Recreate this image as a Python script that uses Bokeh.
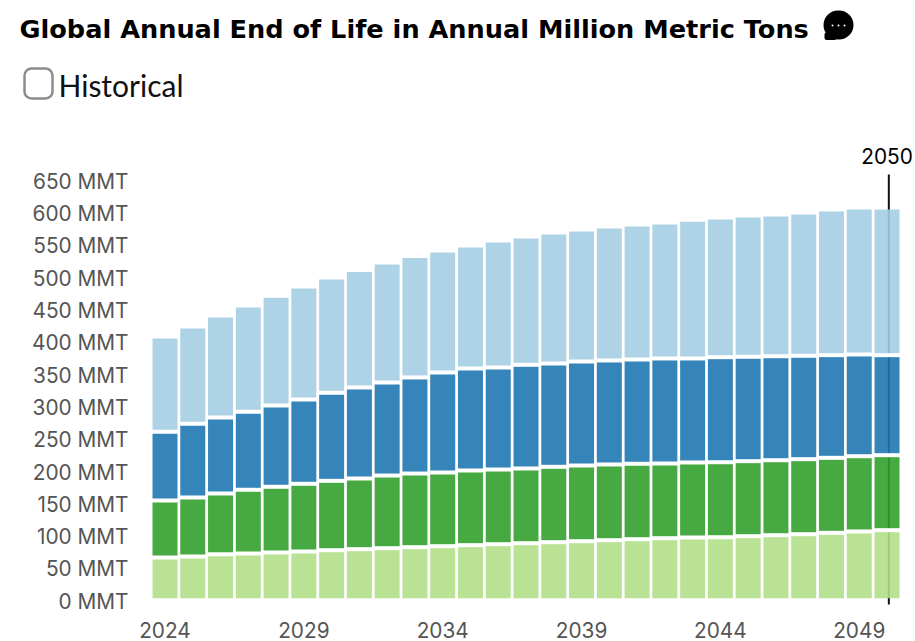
from bokeh.plotting import figure
from bokeh.embed import file_html
from bokeh.resources import INLINE
from bokeh.models import (Range1d, FixedTicker, Label, BoxAnnotation)

years = list(range(2024, 2051))
light_green = [63,64.6,68.1,69.2,70.8,72.3,74.3,75.9,77.4,79,80.5,82.1,83.6,85.1,86.7,88.2,89.8,91.3,92.9,94,94.4,96,97.5,99.1,101.2,103.3,105.3]
green = [88.2,91.3,94,98.6,101.7,104.8,107.4,109.4,112.5,114,114.1,115.6,115.6,115.7,116.7,117.2,117.2,116.8,115.6,116.1,116.1,116.1,116.1,116.1,116.1,116.5,116.1]
blue = [106.4,114.1,117.6,120.8,125.8,130.5,136.3,140.9,144,148.7,154.8,157.9,157.9,160.5,159.9,161,161,161.4,162.6,161,162.6,161.6,161,160,158.9,157.5,154.8]
light_blue = [144.4,147.5,154.8,161.4,166.7,171.8,175.3,178.8,182.7,184.9,185.7,187.3,193.5,195.5,199.7,201.2,204.3,205.9,207.4,211.6,213.1,215.6,216.3,218.8,222.4,224.4,225.5]
series = [light_green, green, blue, light_blue]
colors = ["#b2df8a", "#33a02c", "#1f78b4", "#a6cee3"]
x_ticks = [2024, 2029, 2034, 2039, 2044, 2049]
y_ticks = list(range(0, 651, 50))
y_labels = {v: f"{v} MMT" for v in y_ticks}
marker_year = 2050

W, H = 915, 641
PX = 27.77
PY = 0.646
X0 = 164.5
Y0 = 597.7

def dx(px):
    return 2024 + (px - X0) / PX
def dy(py):
    return (Y0 - py) / PY

p = figure(width=W, height=H, x_range=Range1d(dx(0), dx(W)), y_range=Range1d(dy(H), dy(0)),
           toolbar_location=None, output_backend="svg",
           min_border_left=0, min_border_right=0, min_border_top=0, min_border_bottom=0,
           outline_line_color=None, background_fill_color=None, border_fill_color=None)
p.grid.visible = False

# y axis labels sit about 3px under the value they name
p.extra_y_ranges = {"lab": Range1d(dy(H) + 3 / PY, dy(0) + 3 / PY)}
ya = p.yaxis[0]
ya.y_range_name = "lab"
ya.fixed_location = dx(151)
ya.ticker = FixedTicker(ticks=y_ticks)
ya.major_label_overrides = y_labels
ya.axis_line_color = None
ya.major_tick_line_color = None
ya.minor_tick_line_color = None
ya.major_tick_in = 0
ya.major_tick_out = 0
ya.major_label_standoff = 23
ya.major_label_text_font = "Inter"
ya.major_label_text_font_size = "20.8px"
ya.major_label_text_color = "#555555"

xa = p.xaxis[0]
xa.fixed_location = dy(610)
xa.ticker = FixedTicker(ticks=x_ticks)
xa.axis_line_color = None
xa.major_tick_line_color = None
xa.minor_tick_line_color = None
xa.major_tick_in = 0
xa.major_tick_out = 0
xa.major_label_standoff = 11
xa.major_label_text_font = "Inter"
xa.major_label_text_font_size = "20.8px"
xa.major_label_text_color = "#555555"

# marker line, drawn first so it shows through the translucent bars
p.segment(x0=[marker_year + 0.065], x1=[marker_year + 0.065], y0=[dy(604)], y1=[dy(174)],
          line_color="#111111", line_width=2)

bottom = [0.0] * len(years)
for vals, col in zip(series, colors):
    top = [b + v for b, v in zip(bottom, vals)]
    p.vbar(x=years, bottom=bottom, top=top, width=25 / PX, fill_color=col, fill_alpha=0.9, line_color=None)
    bottom = top

# white separators between the stacked parts
bottom = [0.0] * len(years)
for vals in series[:-1]:
    bottom = [b + v for b, v in zip(bottom, vals)]
    p.rect(x=years, y=bottom, width=1.0, height=4, height_units="screen",
           fill_color="#ffffff", line_color=None)

def label(px, py, text, **kw):
    p.add_layout(Label(x=px, y=H - py, x_units="screen", y_units="screen", text=text,
                       text_baseline="middle", **kw))

label(19, 28, "Global Annual End of Life in Annual Million Metric Tons",
      text_font="DejaVu Sans", text_font_style="bold", text_font_size="25.6px", text_color="#000000")
label(58, 84, "Historical", text_font="Lato", text_font_size="30px", text_color="#111111")
label(886.5, 155.5, str(marker_year), text_font="Inter", text_font_size="20.8px", text_color="#000000",
      text_align="center")

def box(l, r, t, b, **kw):
    p.add_layout(BoxAnnotation(left=l, right=r, top=t, bottom=b,
                               left_units="canvas", right_units="canvas",
                               top_units="canvas", bottom_units="canvas", level="overlay", **kw))

box(24, 52, 68, 98, fill_color="#ffffff", fill_alpha=1, line_color="#8c8c8c", line_width=2.5, line_alpha=1, border_radius=7)
box(823, 853, 10, 39, fill_color="#000000", fill_alpha=1, line_color=None, border_radius=15)
box(824, 836, 32, 39.5, fill_color="#000000", fill_alpha=1, line_color=None, border_radius=2)
for cx in (832, 838, 844):
    box(cx - 1, cx + 1, 24, 26, fill_color="#ffffff", fill_alpha=1, line_color=None, border_radius=1)

open("out.html", "w").write(file_html(p, INLINE))
